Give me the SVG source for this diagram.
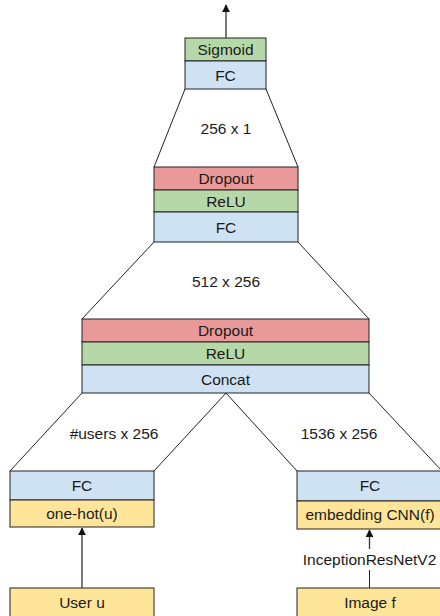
<svg xmlns="http://www.w3.org/2000/svg" width="440" height="616" viewBox="0 0 440 616">
<style>
text{font-family:"Liberation Sans",Arial,sans-serif;font-size:15.5px;fill:#1a1a1a;text-anchor:middle}
.b{fill:#cfe2f3;stroke:#222;stroke-width:1}
.g{fill:#b6d7a8;stroke:#222;stroke-width:1}
.r{fill:#ea9999;stroke:#222;stroke-width:1}
.y{fill:#ffe599;stroke:#222;stroke-width:1}
.l{stroke:#222;stroke-width:1;fill:none}
.a{stroke:#333;stroke-width:1.3;fill:none;marker-end:url(#ah)}
</style>
<defs>
<marker id="ah" viewBox="0 0 10 10" refX="9" refY="5" markerWidth="8" markerHeight="8" orient="auto" markerUnits="userSpaceOnUse">
<path d="M0,0 L10,5 L0,10 z" fill="#111"/>
</marker>
</defs>
<rect width="440" height="616" fill="#fff"/>
<g id="connectors">
<line class="a" x1="226" y1="38" x2="226" y2="5"/>
<line class="l" x1="185" y1="89" x2="154" y2="167"/>
<line class="l" x1="266" y1="89" x2="298" y2="167"/>
<line class="l" x1="154" y1="242" x2="82" y2="319"/>
<line class="l" x1="298" y1="242" x2="369" y2="319"/>
<line class="l" x1="82" y1="393" x2="10" y2="471"/>
<line class="l" x1="226" y1="393" x2="154" y2="471"/>
<line class="l" x1="226" y1="393" x2="297" y2="471"/>
<line class="l" x1="369" y1="393" x2="442" y2="471"/>
<line class="a" x1="82" y1="588" x2="82" y2="528"/>
<line class="l" x1="369.5" y1="588" x2="369.5" y2="570"/>
<line class="a" x1="369.5" y1="549" x2="369.5" y2="530"/>
</g>
<g id="top">
<rect class="g" x="185" y="38" width="81" height="23"/>
<text x="225.5" y="55">Sigmoid</text>
<rect class="b" x="185" y="61" width="81" height="28"/>
<text x="225.5" y="81">FC</text>
</g>
<text id="l1" x="226" y="134">256 x 1</text>
<g id="mid">
<rect class="r" x="154" y="167" width="144" height="23"/>
<text x="226" y="184">Dropout</text>
<rect class="g" x="154" y="190" width="144" height="22"/>
<text x="226" y="207">ReLU</text>
<rect class="b" x="154" y="212" width="144" height="30"/>
<text x="226" y="233">FC</text>
</g>
<text id="l2" x="226" y="287">512 x 256</text>
<g id="big">
<rect class="r" x="82" y="319" width="287" height="23"/>
<text x="225.5" y="336">Dropout</text>
<rect class="g" x="82" y="342" width="287" height="23"/>
<text x="225.5" y="359">ReLU</text>
<rect class="b" x="82" y="365" width="287" height="28"/>
<text x="225.5" y="385">Concat</text>
</g>
<text id="l3" x="114" y="439">#users x 256</text>
<text id="l4" x="339" y="439">1536 x 256</text>
<g id="left">
<rect class="b" x="10" y="471" width="144" height="29"/>
<text x="82" y="491">FC</text>
<rect class="y" x="10" y="500" width="144" height="27"/>
<text x="82" y="519">one-hot(u)</text>
</g>
<g id="right">
<rect class="b" x="297" y="471" width="146" height="30"/>
<text x="370" y="491">FC</text>
<rect class="y" x="297" y="501" width="146" height="28"/>
<text x="370" y="520">embedding CNN(f)</text>
</g>
<text id="l5" x="369.5" y="565">InceptionResNetV2</text>
<g id="user">
<rect class="y" x="10" y="588" width="144" height="40"/>
<text x="82" y="608">User u</text>
</g>
<g id="image">
<rect class="y" x="297" y="588" width="146" height="40"/>
<text x="370" y="608">Image f</text>
</g>
</svg>
